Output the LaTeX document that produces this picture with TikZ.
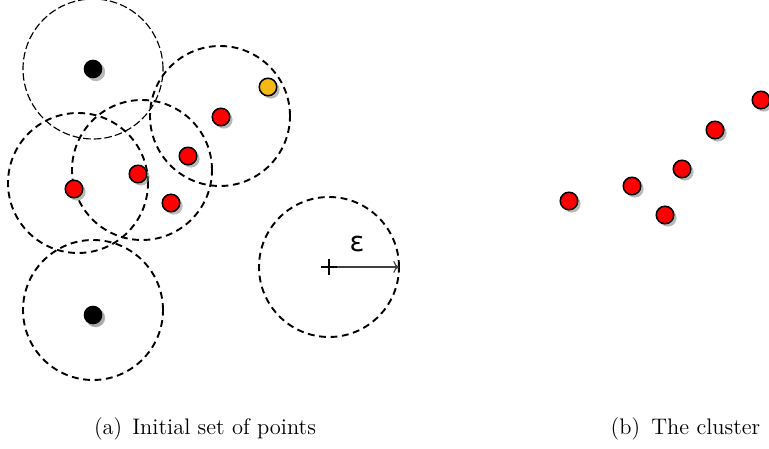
\documentclass[tikz,border=0pt]{standalone}
\usepackage{fontspec}
\newfontfamily\epsfont{DejaVu Sans}
\usepackage{tikz}
\usetikzlibrary{arrows.meta, shadows}

\tikzset{
  reach/.style={circle, draw, line width=1pt, dash pattern=on 3.6pt off 2.4pt,
    minimum size=73.5pt, inner sep=0pt, outer sep=0pt},
  pt/.style={circle, draw=black, line width=0.8pt, fill=red, minimum size=9.2pt,
    inner sep=0pt, drop shadow={shadow xshift=1.5pt, shadow yshift=-1.5pt,
    fill=gray, opacity=0.55}},
  noise/.style={pt, draw=none, fill=black, minimum size=9.8pt},
  caption/.style={font=\fontsize{11.8}{14}\selectfont},
}

\begin{document}
\begin{tikzpicture}[x=0.525pt, y=0.525pt]
    \useasboundingbox (0,0) rectangle (769,449);
    % neighbourhoods
    \node[reach, line width=0.6pt, dash pattern=on 4pt off 1.6pt] (n1) at (93,380) {};
    \node[reach] (n2) at (220,333) {};
    \node[reach] (n3) at (142,279) {};
    \node[reach] (n4) at (78,266) {};
    \node[reach] (n5) at (93,139) {};
    \node[reach] (n6) at (329,182) {};
    % points of (a)
    \node[noise] (a1) at (93,380) {};
    \node[noise, drop shadow={shadow xshift=1pt, shadow yshift=-1.4pt, fill=gray, opacity=0.3}] (a2) at (93,134) {};
    \node[pt, fill={rgb,255:red,245;green,185;blue,20}] (a3) at (268,362) {};
    \node[pt] (a4) at (221,332) {};
    \node[pt] (a5) at (188,293) {};
    \node[pt] (a6) at (138,275) {};
    \node[pt] (a7) at (171,246) {};
    \node[pt] (a8) at (74,260) {};
    % radius
    \draw[line width=0.6pt, black!75, -{To[length=3pt]}] (n6.center) -- (n6.east);
    \draw[line width=0.8pt] ([xshift=-4]n6.center) -- ([xshift=4]n6.center)
      ([yshift=-4]n6.center) -- ([yshift=4]n6.center);
    \node (eps) at (357,205) {\epsfont\Large ε};
    % points of (b)
    \node[pt] (b1) at (569,248) {};
    \node[pt] (b2) at (632,263) {};
    \node[pt] (b3) at (665,234) {};
    \node[pt] (b4) at (682,280) {};
    \node[pt] (b5) at (715,319) {};
    \node[pt] (b6) at (761,349) {};
    % captions
    \node[caption] (capa) at (205,20) {(a)\hspace{0.45em}Initial set of points};
    \node[caption, anchor=west] (capb) at (604,20) {(b)\hspace{0.5em}The cluster};
\end{tikzpicture}
\end{document}
